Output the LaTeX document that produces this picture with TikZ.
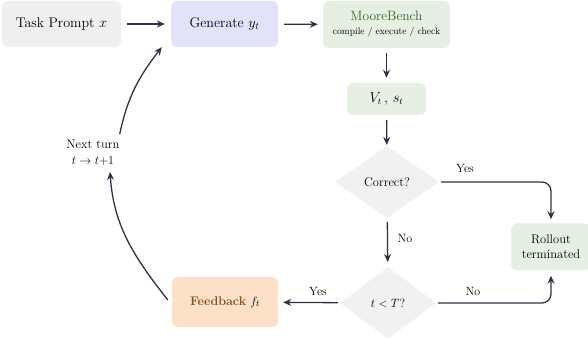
\documentclass[tikz,border=0pt]{standalone}
\usetikzlibrary{shapes.geometric,arrows.meta,calc}
\definecolor{edgecol}{HTML}{2B3445}
\definecolor{greyfill}{HTML}{EFEFEF}
\definecolor{lavfill}{HTML}{E2E2FA}
\definecolor{greenfill}{HTML}{E5EFE2}
\definecolor{greentext}{HTML}{2D6A2D}
\definecolor{peachfill}{HTML}{FDE0C8}
\definecolor{browntext}{HTML}{8A4A1E}
\definecolor{diafill}{HTML}{F1F1F1}
\tikzset{
  box/.style={draw=none, rounded corners=6pt, align=center, inner sep=2pt},
  decision/.style={diamond, draw=none, fill=diafill, inner sep=0pt, align=center},
  arr/.style={draw=edgecol, line width=1.3pt, -{Stealth[length=8pt,width=7pt]}},
  lbl/.style={font=\fontsize{12}{14}\selectfont, text=black},
  big/.style={font=\fontsize{14}{16}\selectfont},
}
\begin{document}
\begin{tikzpicture}[x=1pt,y=1pt,font=\fontsize{12.5}{15}\selectfont]
\useasboundingbox (0,0) rectangle (588,339);

% process boxes
\node[box, big, fill=greyfill, minimum width=119pt, minimum height=46pt] (task) at (61.5,315) {Task Prompt $x$};
\node[box, big, fill=lavfill, minimum width=107pt, minimum height=46pt] (gen) at (224.5,315) {Generate $y_t$};
\node[box, fill=greenfill, minimum width=127pt, minimum height=47pt] (moore) at (386.5,314.5)
  {{\fontsize{13.5}{15}\selectfont\color{greentext}MooreBench}\\[-1pt]{\fontsize{9.5}{11}\selectfont compile / execute / check}};
\node[box, font=\fontsize{13.5}{15}\selectfont, fill=greenfill, minimum width=79pt, minimum height=32pt] (vt) at (386.5,240) {$V_t\,,\, s_t$};
\node[decision, minimum width=104pt, minimum height=72pt] (correct) at (387,157) {Correct?};
\node[decision, minimum width=96pt, minimum height=72pt] (lt) at (388,36) {$t<T?$};
\node[box, fill=greenfill, minimum width=80pt, minimum height=47pt] (rollout) at (551,92) {Rollout\\terminated};
\node[box, fill=peachfill, minimum width=106pt, minimum height=50pt] (feedback) at (225,37)
  {{\color{browntext}\bfseries Feedback} $f_t$};
\node[align=center, inner sep=2pt] (nextturn) at (93,186) {Next turn\\[1pt]$t\to t{+}1$};

% straight connectors
\draw[arr, shorten <=6pt, shorten >=6pt] (task) -- (gen);
\draw[arr, shorten <=6pt, shorten >=5pt] (gen) -- (moore);
\draw[arr, shorten <=5pt, shorten >=5pt] (moore) -- (vt);
\draw[arr, shorten <=5pt, shorten >=1pt] (vt) -- (correct);
\draw[arr, shorten <=4pt, shorten >=5pt] (correct) -- (lt);
\draw[arr, shorten <=2pt, shorten >=5pt] (lt) -- (feedback);

% elbow connectors into the terminal box
\draw[arr, rounded corners=9pt, shorten <=2pt, shorten >=4pt]
  (correct.east) -- (correct.east -| rollout.north) -- (rollout.north);
\draw[arr, rounded corners=9pt, shorten <=2pt, shorten >=5pt]
  (lt.east) -- (lt.east -| rollout.south) -- (rollout.south);

% loop back to generation
\draw[arr] ([xshift=-4pt,yshift=2pt]feedback.west) to[out=128,in=-86] ([xshift=17pt,yshift=-4pt]nextturn.south);
\draw[arr] ([xshift=-2pt,yshift=4pt]nextturn.north east) to[out=78,in=-128] ([xshift=-9pt]gen.south west);

% branch labels
\node[lbl] (yes1) at (465,171) {Yes};
\node[lbl] (no1) at (405,101) {No};
\node[lbl] (no2) at (473,48) {No};
\node[lbl] (yes2) at (318,48) {Yes};
\end{tikzpicture}
\end{document}
